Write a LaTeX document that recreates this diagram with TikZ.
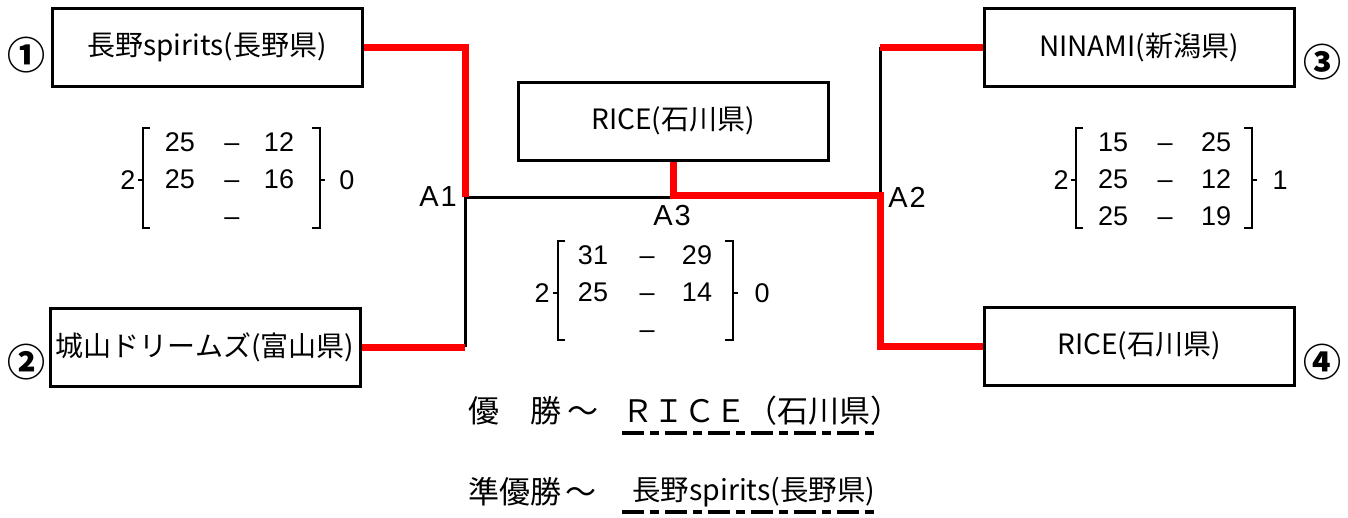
\documentclass[tikz,border=0pt]{standalone}
\usepackage{fontspec}
\setmainfont{Noto Sans CJK JP}
\newfontfamily\latf{Liberation Sans}
\newcommand{\dsh}{\vphantom{0}–}
\begin{document}
\begin{tikzpicture}[x=1pt,y=-1pt,
  team/.style={draw, line width=3pt, minimum width=310pt, minimum height=78pt, inner sep=0pt, font=\fontsize{28}{30}\selectfont},
  win/.style={draw=red, line width=7pt},
  lose/.style={draw=black, line width=3pt},
  num/.style={font=\latf\fontsize{27}{28}\selectfont, inner sep=0pt},
  lbl/.style={font=\latf\fontsize{29}{30}\selectfont, inner sep=0pt},
  circ/.style={font=\bfseries\fontsize{38}{40}\selectfont, inner sep=0pt},
  big/.style={font=\fontsize{31}{34}\selectfont, inner sep=0pt, anchor=west},
  brk/.style={line width=2pt},
  uline/.style={line width=4pt, dash pattern=on 22pt off 6pt on 9pt off 6pt}]
\useasboundingbox (0,0) rectangle (1348,517);
% team boxes
\node[team] (t1) at (207,47) {長野spirits(長野県)};
\node[team] (t2) at (205,347) {城山ドリームズ(富山県)};
\node[team] (t3) at (1139,47) {NINAMI(新潟県)};
\node[team] (t4) at (1139,346) {RICE(石川県)};
\node[team] (rc) at (673,121) {RICE(石川県)};
% circled numbers
\node[circ] (c1) at (26,55) {①};
\node[circ] (c2) at (26,362) {②};
\node[circ] (c3) at (1322,62) {③};
\node[circ] (c4) at (1322,362) {④};
% junctions
\coordinate (a1) at (465,197);
\coordinate (a2) at (880,195);
\coordinate (a2t) at (880,47);
\coordinate (a3) at (673,195);
% connectors
\draw[lose] (a1) -- (a1 |- t2.east);
\draw[lose] (a1) -- (a3 |- a1);
\draw[lose] (a2t) -- (a2);
\draw[win] (t1.east) -| (a1);
\draw[win] (t2.east) -- (a1 |- t2.east);
\draw[win] (rc.south) -- (a3) -- (a2) |- (t4.west);
\draw[win] (t3.west) -- (a2t);
% junction labels
\node[lbl] (l1) at (438,197) {A\hspace{2pt}1};
\node[lbl] (l2) at (907,197) {A\hspace{2pt}2};
\node[lbl] (l3) at (672,216) {A\hspace{2pt}3};
% left score
\node[num] (s1l) at (128,180) {2};
\draw[brk] (150,128) -- (143,128) -- (143,228) -- (150,228);
\draw[brk] (143,180) -- (138,180);
\draw[brk] (312,128) -- (320,128) -- (320,228) -- (312,228);
\draw[brk] (320,180) -- (325,180);
\node[num] (s1r) at (347,180) {0};
\node[num] at (180,142) {25}; \node[num] at (232,142) {\dsh}; \node[num] at (279,142) {12};
\node[num] at (180,179) {25}; \node[num] at (232,179) {\dsh}; \node[num] at (279,179) {16};
\node[num] at (232,216) {\dsh};
% middle score
\node[num] (s3l) at (542,293) {2};
\draw[brk] (565,241) -- (558,241) -- (558,340) -- (565,340);
\draw[brk] (558,293) -- (553,293);
\draw[brk] (725,241) -- (733,241) -- (733,340) -- (725,340);
\draw[brk] (733,293) -- (738,293);
\node[num] (s3r) at (762,293) {0};
\node[num] at (593,255) {31}; \node[num] at (647,255) {\dsh}; \node[num] at (697,255) {29};
\node[num] at (593,292) {25}; \node[num] at (647,292) {\dsh}; \node[num] at (697,292) {14};
\node[num] at (647,329) {\dsh};
% right score
\node[num] (s2l) at (1061,180) {2};
\draw[brk] (1083,128) -- (1076,128) -- (1076,228) -- (1083,228);
\draw[brk] (1076,180) -- (1071,180);
\draw[brk] (1244,128) -- (1252,128) -- (1252,228) -- (1244,228);
\draw[brk] (1252,180) -- (1257,180);
\node[num] (s2r) at (1280,180) {1};
\node[num] at (1113,142) {15}; \node[num] at (1165,142) {\dsh}; \node[num] at (1216,142) {25};
\node[num] at (1113,179) {25}; \node[num] at (1165,179) {\dsh}; \node[num] at (1216,179) {12};
\node[num] at (1113,216) {25}; \node[num] at (1165,216) {\dsh}; \node[num] at (1216,216) {19};
% results
\node[big] (w1) at (468,411) {優　勝\hspace{6pt}～};
\node[big] (w2) at (622,411) {ＲＩＣＥ（石川県）};
\node[big] (r1) at (468,492) {準優勝\hspace{4pt}～};
\node[big,font=\fontsize{28.5}{30}\selectfont] (r2) at (632,492) {長野spirits(長野県)};
\draw[uline] (622,433) -- (874,433);
\draw[uline] (622,512) -- (874,512);
\end{tikzpicture}
\end{document}
